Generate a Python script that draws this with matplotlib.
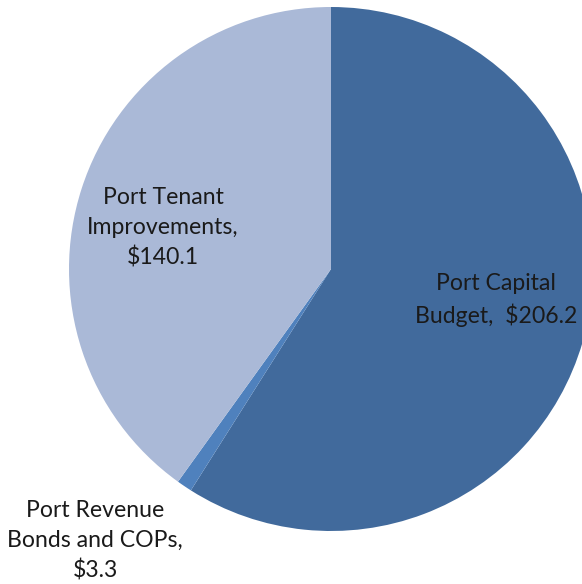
import matplotlib
matplotlib.use("Agg")
import matplotlib.pyplot as plt

# Funding sources ($ millions)
labels = ["Port Capital\nBudget,  $206.2", "Port Revenue\nBonds and COPs,\n$3.3", "Port Tenant\nImprovements,\n$140.1"]
values = [206.2, 3.3, 140.1]
colors = ["#416A9C", "#4F81BD", "#AAB9D7"]

W, H = 582, 584
fig = plt.figure(figsize=(W / 100, H / 100), dpi=100)
ax = fig.add_axes([0, 0, 1, 1])

cx, cy, r = 331, H - 269, 262
ax.pie(values, colors=colors, startangle=90, counterclock=False,
       center=(cx, cy), radius=r, frame=True,
       wedgeprops=dict(linewidth=0))
ax.set_xlim(0, W)
ax.set_ylim(0, H)
ax.axis("off")

text_pos = [(496, H - 300), (95, H - 541), (163, H - 228)]
for lab, (x, y) in zip(labels, text_pos):
    ax.text(x, y, lab, ha="center", va="center", fontsize=16.6,
            family="Lato", color="#1a1a1a", linespacing=1.5)

fig.savefig("out.png", dpi=100)
